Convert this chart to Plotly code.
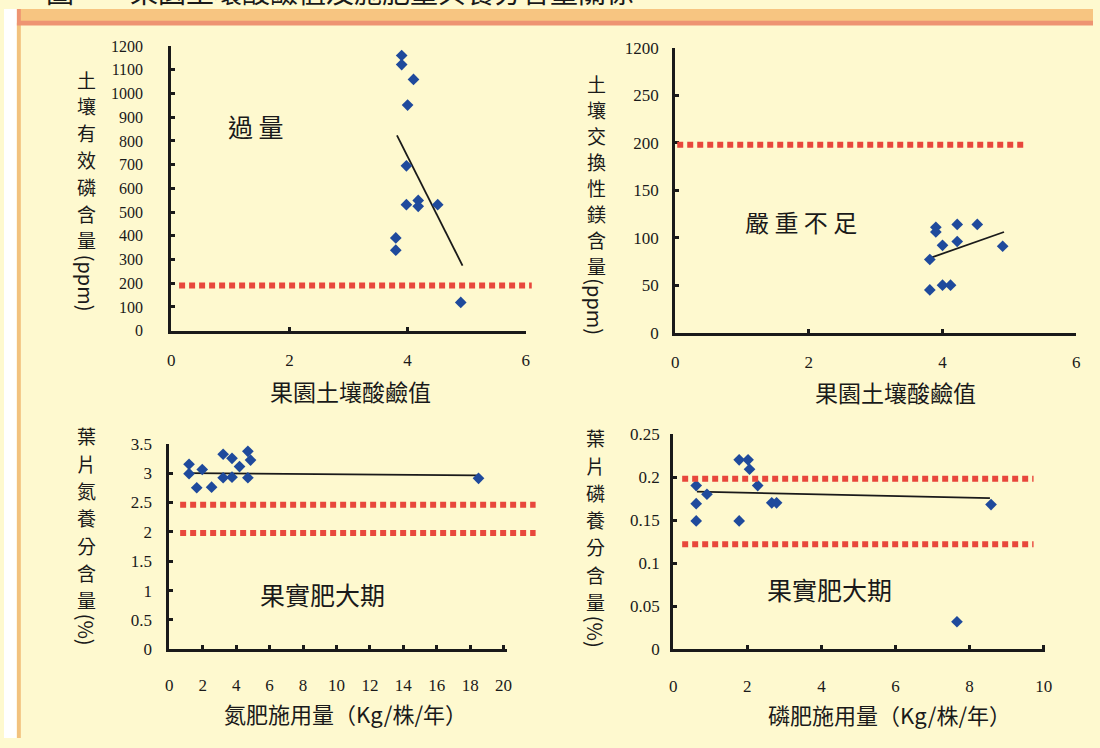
import plotly.graph_objects as go

# ---------------- data ----------------
# Panel 1: soil pH vs available P (ppm)
p1_ph = [3.9, 3.9, 4.1, 4.0, 3.98, 3.98, 4.18, 4.18, 4.51, 3.8, 3.8, 4.9]
p1_p = [1160, 1122, 1059, 951, 695, 531, 549, 524, 531, 391, 339, 119]
p1_trend_x = [3.82, 4.93]
p1_trend_y = [823, 274]
p1_ref = [190]

# Panel 2: soil pH vs exchangeable Mg (ppm)
p2_ph = [3.81, 3.81, 3.9, 3.9, 4.0, 4.0, 4.12, 4.22, 4.22, 4.52, 4.9]
p2_mg = [77, 45, 111, 106, 92, 50, 50, 114, 96, 114, 91]
p2_trend_x = [3.83, 4.92]
p2_trend_y = [79, 106]
p2_ref = [198]
p2_tickvals = [0, 50, 100, 150, 200, 250, 300]
p2_ticktext = ["0", "50", "100", "150", "200", "250", "1200"]

# Panel 3: N fertilizer vs leaf N (%)
p3_n = [1.18, 1.18, 1.97, 1.64, 2.53, 3.22, 3.22, 3.75, 3.75, 4.2, 4.7, 4.86, 4.7, 18.5]
p3_leaf = [3.15, 2.99, 3.06, 2.75, 2.76, 3.32, 2.92, 3.25, 2.93, 3.11, 3.37, 3.22, 2.92, 2.91]
p3_trend_x = [1.15, 18.4]
p3_trend_y = [3.0, 2.96]
p3_ref = [2.46, 1.98]
p3_tickvals = [0, 0.5, 1, 1.5, 2, 2.5, 3, 3.5]
p3_ticktext = ["0", "0.5", "1", "1.5", "2", "2.5", "3", "3.5"]

# Panel 4: P fertilizer vs leaf P (%)
p4_p = [0.62, 0.62, 0.62, 0.91, 1.78, 1.78, 2.02, 2.06, 2.28, 2.66, 2.79, 7.66, 8.58]
p4_leaf = [0.19, 0.169, 0.149, 0.18, 0.22, 0.149, 0.22, 0.209, 0.19, 0.17, 0.17, 0.032, 0.168]
p4_trend_x = [0.64, 8.55]
p4_trend_y = [0.183, 0.1756]
p4_ref = [0.198, 0.122]
p4_tickvals = [0, 0.05, 0.1, 0.15, 0.2, 0.25]
p4_ticktext = ["0", "0.05", "0.1", "0.15", "0.2", "0.25"]

# ---------------- layout helpers ----------------
W, H = 1100, 748
def fx(p):
    return p / W
def fy(p):
    return 1 - p / H

BG = "#FEF9CF"
MARK = "#1F4A9C"
RED = "#E8473C"
INK = "#1A1A1A"
CJK = "Noto Sans CJK TC"
SERIF = "Liberation Serif"

fig = go.Figure()

panels = [
    dict(ax="", x=p1_ph, y=p1_p, tx=p1_trend_x, ty=p1_trend_y),
    dict(ax="2", x=p2_ph, y=p2_mg, tx=p2_trend_x, ty=p2_trend_y),
    dict(ax="3", x=p3_n, y=p3_leaf, tx=p3_trend_x, ty=p3_trend_y),
    dict(ax="4", x=p4_p, y=p4_leaf, tx=p4_trend_x, ty=p4_trend_y),
]
for pn in panels:
    fig.add_trace(go.Scatter(x=pn["tx"], y=pn["ty"], mode="lines",
                             line=dict(color=INK, width=1.8),
                             xaxis="x" + pn["ax"], yaxis="y" + pn["ax"],
                             showlegend=False, hoverinfo="skip"))
    fig.add_trace(go.Scatter(x=pn["x"], y=pn["y"], mode="markers",
                             marker=dict(symbol="diamond", size=9, color=MARK),
                             xaxis="x" + pn["ax"], yaxis="y" + pn["ax"],
                             cliponaxis=False, showlegend=False))

axis_common = dict(showline=True, linecolor=INK, linewidth=3, ticks="inside",
                   ticklen=4, tickwidth=3, tickcolor=INK, showgrid=False,
                   zeroline=False, color=INK)

def xax(domain_px, rng, dtick, standoff, size=17):
    return dict(axis_common, domain=[fx(domain_px[0]), fx(domain_px[1])],
                range=rng, tick0=0, dtick=dtick, ticklabelstandoff=standoff,
                tickfont=dict(family=SERIF, size=size, color=INK))

def yax(domain_px, rng, xa, standoff, size=17, **kw):
    return dict(axis_common, domain=[fy(domain_px[1]), fy(domain_px[0])],
                range=rng, anchor=xa, ticklabelstandoff=standoff,
                tickfont=dict(family=SERIF, size=size, color=INK), **kw)

fig.update_layout(
    width=W, height=H, margin=dict(l=0, r=0, t=0, b=0),
    paper_bgcolor=BG, plot_bgcolor="rgba(0,0,0,0)",
    xaxis=dict(xax([169, 527], [0, 6], 2, 12), anchor="y"),
    yaxis=yax([38, 330], [0, 1200], "x", 22, size=16, tick0=0, dtick=100),
    xaxis2=dict(xax([678, 1083], [0, 6], 2, 12), anchor="y2"),
    yaxis2=yax([40, 332], [0, 300], "x2", 10, tickvals=p2_tickvals, ticktext=p2_ticktext),
    xaxis3=dict(xax([167, 508], [0, 20.2], 2, 18), anchor="y3"),
    yaxis3=yax([446, 657], [0, 3.5], "x3", 11, tickvals=p3_tickvals, ticktext=p3_ticktext),
    xaxis4=dict(xax([676, 1052], [0, 10.05], 2, 19), anchor="y4"),
    yaxis4=yax([436, 657], [0, 0.25], "x4", 7, tickvals=p4_tickvals, ticktext=p4_ticktext),
)

shapes = []
# page frame: white strip at left, orange border, header band
shapes.append(dict(type="rect", xref="paper", yref="paper", x0=0, x1=fx(13), y0=0, y1=1,
                   fillcolor="#FFFFFF", line=dict(width=0), layer="below"))
shapes.append(dict(type="rect", xref="paper", yref="paper", x0=fx(13), x1=fx(17), y0=0, y1=fy(14),
                   fillcolor="#F2C27E", line=dict(width=0), layer="below"))
shapes.append(dict(type="rect", xref="paper", yref="paper", x0=fx(13), x1=1, y0=fy(17), y1=1,
                   fillcolor="#EE9472", line=dict(width=0), layer="below"))
shapes.append(dict(type="rect", xref="paper", yref="paper", x0=fx(17), x1=1, y0=fy(12), y1=1,
                   fillcolor="#F7C581", line=dict(width=0), layer="below"))

# red dotted reference lines
refs = [("", p1_ref, 0.022, 1.017), ("2", p2_ref, 0.005, 0.877),
        ("3", p3_ref, 0.032, 1.085), ("4", p4_ref, 0.024, 0.968)]
for ax, vals, a, b in refs:
    for v in vals:
        shapes.append(dict(type="line", xref="x" + ax + " domain", yref="y" + ax,
                           x0=a, x1=b, y0=v, y1=v,
                           line=dict(color=RED, width=6, dash="6px,4px")))
fig.update_layout(shapes=shapes)

ann = []
def add_text(text, xp, yp, size, xanchor="center", yanchor="middle", angle=0, family=CJK):
    ann.append(dict(text=text, x=fx(xp), y=fy(yp), xref="paper", yref="paper",
                    xanchor=xanchor, yanchor=yanchor, showarrow=False, textangle=angle,
                    font=dict(family=family, size=size, color=INK)))

def vtitle(chars, xp, y_first, step, tail, y_tail, size=19):
    # upright stacked characters, then a rotated unit in parentheses
    for i, ch in enumerate(chars):
        add_text(ch, xp, y_first + i * step, size)
    add_text(tail, xp, y_tail, 20, angle=90)

# header title (mostly cut off at top of page)
add_text("圖　　果園土壤酸鹼值及施肥量與養分含量關係", 40, 4, 28, xanchor="left", yanchor="bottom")

# y titles
vtitle("土壤有效磷含量", 83, 72, 27.5, "(ppm)", 281)
vtitle("土壤交換性鎂含量", 598, 76, 26.7, "(ppm)", 305)
vtitle("葉片氮養分含量", 83, 438, 28, "(%)", 637)
vtitle("葉片磷養分含量", 597, 440, 28, "(%)", 639)

# x titles
add_text("果園土壤酸鹼值", 350, 392, 23)
add_text("果園土壤酸鹼值", 900, 393, 23)
add_text("氮肥施用量（Kg/株/年）", 345, 722, 22)
add_text("磷肥施用量（Kg/株/年）", 894, 723, 22)

# in-plot labels
add_text("過 量", 255, 120, 25)
add_text("嚴 重 不 足", 805, 218, 24)
add_text("果實肥大期", 322, 600, 25)
add_text("果實肥大期", 834, 595, 25)

fig.update_layout(annotations=ann)

fig.write_html("out.html", config={"displayModeBar": False},
               post_script="document.body.style.margin='0';document.body.style.overflow='hidden';")
